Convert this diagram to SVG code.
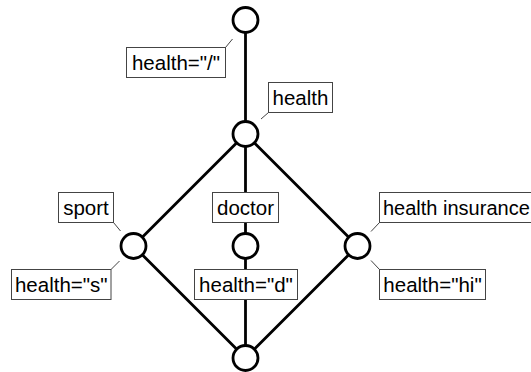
<svg xmlns="http://www.w3.org/2000/svg" width="531" height="372" viewBox="0 0 531 372">
<style>
.e{stroke:#000;stroke-width:2.8;fill:none;stroke-linecap:round}
.n{fill:#fff;stroke:#000;stroke-width:2.8}
.b{fill:#fff;stroke:#444;stroke-width:1}
.p{stroke:#444;stroke-width:1;fill:none}
.t{font-family:"Liberation Sans",Arial,sans-serif;font-size:20.5px;fill:#000;text-anchor:middle}
</style>
<rect width="531" height="372" fill="#fff"/>
<g id="connectors">
<line class="e" x1="245.5" y1="20" x2="245.5" y2="134"/>
<line class="e" x1="245.5" y1="134" x2="133.5" y2="246"/>
<line class="e" x1="245.5" y1="134" x2="357.5" y2="246"/>
<line class="e" x1="245.5" y1="134" x2="245.5" y2="246"/>
<line class="e" x1="245.5" y1="246" x2="245.5" y2="358"/>
<line class="e" x1="133.5" y1="246" x2="245.5" y2="358"/>
<line class="e" x1="357.5" y1="246" x2="245.5" y2="358"/>
</g>
<g id="n-top">
<circle class="n" cx="245.5" cy="20" r="12.5"/>
<line class="p" x1="225.5" y1="47.5" x2="232.5" y2="39"/>
<rect class="b" x="126.5" y="47.5" width="99" height="30"/>
<text class="t" x="176" y="69.5">health="/"</text>
</g>
<g id="n-health">
<circle class="n" cx="245.5" cy="134" r="12.5"/>
<line class="p" x1="268.5" y1="112.5" x2="261" y2="119"/>
<rect class="b" x="268.5" y="82.5" width="64" height="30"/>
<text class="t" x="300.5" y="104.5">health</text>
</g>
<g id="n-sport">
<circle class="n" cx="133.5" cy="246" r="12.5"/>
<line class="p" x1="113.5" y1="222.5" x2="120.5" y2="231"/>
<line class="p" x1="111" y1="269.5" x2="119.5" y2="261"/>
<rect class="b" x="58.5" y="192.5" width="55" height="30"/>
<text class="t" x="86" y="214.5">sport</text>
<rect class="b" x="11.5" y="269.5" width="99.5" height="30"/>
<text class="t" x="61.25" y="291.5">health="s"</text>
</g>
<g id="n-doctor">
<rect class="b" x="212.5" y="192.5" width="66" height="30"/>
<text class="t" x="245.5" y="214.5">doctor</text>
<circle class="n" cx="245.5" cy="246" r="12.5"/>
<rect class="b" x="194.5" y="269.5" width="103" height="30"/>
<text class="t" x="246" y="291.5">health="d"</text>
</g>
<g id="n-insurance">
<circle class="n" cx="357.5" cy="246" r="12.5"/>
<line class="p" x1="379.5" y1="222.5" x2="371" y2="231.5"/>
<line class="p" x1="379.5" y1="269.5" x2="371" y2="260.5"/>
<rect class="b" x="379.5" y="192.5" width="162" height="30"/>
<text class="t" x="383" y="214.5" style="text-anchor:start;font-size:20px">health insurance</text>
<rect class="b" x="379.5" y="269.5" width="106" height="30"/>
<text class="t" x="432.5" y="291.5">health="hi"</text>
</g>
<g id="n-bottom">
<circle class="n" cx="245.5" cy="358" r="12.5"/>
</g>
</svg>
